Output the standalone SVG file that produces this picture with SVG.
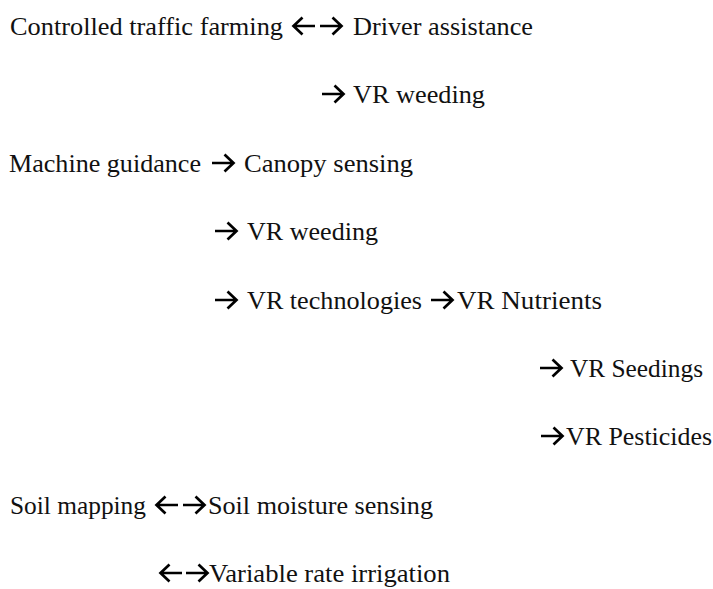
<svg xmlns="http://www.w3.org/2000/svg" xmlns:xlink="http://www.w3.org/1999/xlink" width="713" height="589" viewBox="0 0 713 589">
<style>
  .t { font-family: "Liberation Serif", "Times New Roman", serif; font-size: 26px; fill: #111; }
  .ar { fill: none; stroke: #000; stroke-width: 2.7; stroke-linecap: butt; stroke-linejoin: miter; }
</style>
<defs>
  <path id="ra" class="ar" d="M0 0 H21 M12.5 -8.5 L21.5 0 L12.5 8.5"/>
  <path id="la" class="ar" d="M22 0 H1 M9.5 -8.5 L0.5 0 L9.5 8.5"/>
</defs>
<rect width="713" height="589" fill="#fff"/>

<g id="nodes">
  <g id="n-ctf"><text class="t" x="10" y="35" textLength="273" lengthAdjust="spacingAndGlyphs">Controlled traffic farming</text></g>
  <g id="n-driver"><text class="t" x="353" y="35" textLength="180" lengthAdjust="spacingAndGlyphs">Driver assistance</text></g>
  <g id="n-vrweed1"><text class="t" x="353" y="103" textLength="132" lengthAdjust="spacingAndGlyphs">VR weeding</text></g>
  <g id="n-machine"><text class="t" x="9" y="172" textLength="192" lengthAdjust="spacingAndGlyphs">Machine guidance</text></g>
  <g id="n-canopy"><text class="t" x="244" y="172" textLength="169" lengthAdjust="spacingAndGlyphs">Canopy sensing</text></g>
  <g id="n-vrweed2"><text class="t" x="247" y="240" textLength="131" lengthAdjust="spacingAndGlyphs">VR weeding</text></g>
  <g id="n-vrtech"><text class="t" x="247" y="309" textLength="175" lengthAdjust="spacingAndGlyphs">VR technologies</text></g>
  <g id="n-vrnut"><text class="t" x="457" y="309" textLength="145" lengthAdjust="spacingAndGlyphs">VR Nutrients</text></g>
  <g id="n-vrseed"><text class="t" x="570" y="377" textLength="133" lengthAdjust="spacingAndGlyphs">VR Seedings</text></g>
  <g id="n-vrpest"><text class="t" x="566" y="445" textLength="146" lengthAdjust="spacingAndGlyphs">VR Pesticides</text></g>
  <g id="n-soilmap"><text class="t" x="10" y="514" textLength="136" lengthAdjust="spacingAndGlyphs">Soil mapping</text></g>
  <g id="n-soilmoist"><text class="t" x="208" y="514" textLength="225" lengthAdjust="spacingAndGlyphs">Soil moisture sensing</text></g>
  <g id="n-vri"><text class="t" x="209" y="582" textLength="241" lengthAdjust="spacingAndGlyphs">Variable rate irrigation</text></g>
</g>

<g id="connectors">
  <use xlink:href="#la" x="293" y="26"/>
  <use xlink:href="#ra" x="320" y="26"/>
  <use xlink:href="#ra" x="322" y="94"/>
  <use xlink:href="#ra" x="212" y="163"/>
  <use xlink:href="#ra" x="215" y="231"/>
  <use xlink:href="#ra" x="215" y="300"/>
  <use xlink:href="#ra" x="431" y="300"/>
  <use xlink:href="#ra" x="540" y="368"/>
  <use xlink:href="#ra" x="541" y="436"/>
  <use xlink:href="#la" x="156" y="505"/>
  <use xlink:href="#ra" x="183" y="505"/>
  <use xlink:href="#la" x="160" y="573"/>
  <use xlink:href="#ra" x="186" y="573"/>
</g>
</svg>
